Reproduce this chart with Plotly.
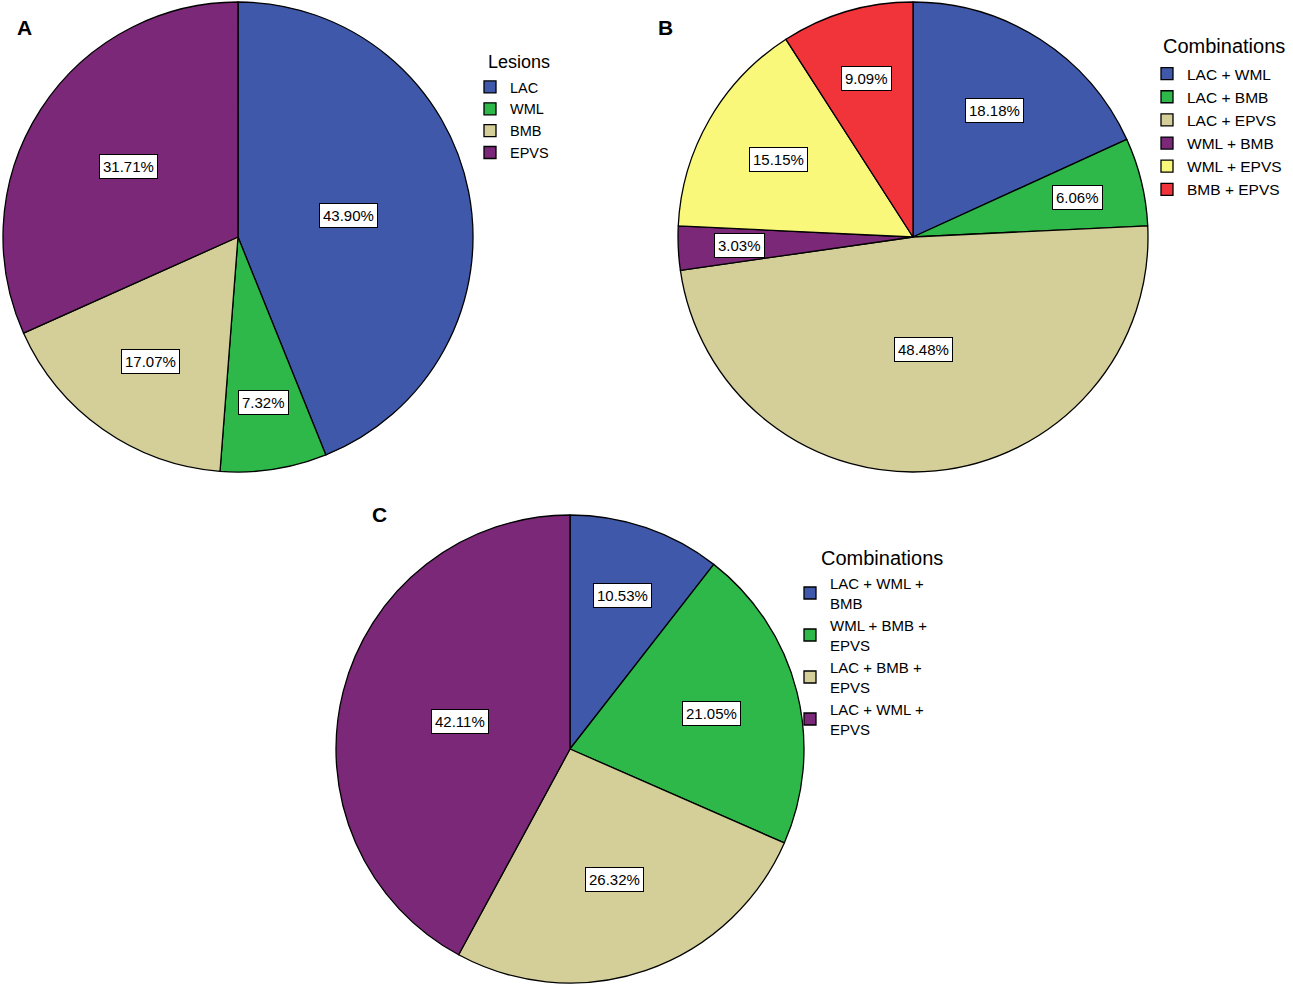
import math
import plotly.graph_objects as go

# panel A: single lesion types
lesions = ["LAC", "WML", "BMB", "EPVS"]
lesions_pct = [43.90, 7.32, 17.07, 31.71]

# panel B: two-lesion combinations
pairs = ["LAC + WML", "LAC + BMB", "LAC + EPVS", "WML + BMB", "WML + EPVS", "BMB + EPVS"]
pairs_pct = [18.18, 6.06, 48.48, 3.03, 15.15, 9.09]

# panel C: three-lesion combinations
triples = ["LAC + WML +<br>BMB", "WML + BMB +<br>EPVS", "LAC + BMB +<br>EPVS", "LAC + WML +<br>EPVS"]
triples_pct = [10.53, 21.05, 26.32, 42.11]

BLUE, GREEN, TAN, PURPLE = "#3F58AA", "#2EB84A", "#D4CE98", "#7B2878"
YELLOW, RED = "#FAF87A", "#F0343A"

W, H = 1293, 988
FONT = "Arial, Liberation Sans, sans-serif"

fig = go.Figure()
annotations = []


def px(x, y):
    # pixel position (from top-left) -> paper coords
    return x / W, 1 - y / H


def add_pie(labels, pct, colors, cx, cy, r, legend):
    fig.add_trace(go.Pie(
        labels=labels, values=pct, sort=False, direction="clockwise", rotation=0,
        marker=dict(colors=colors, line=dict(color="black", width=1.3)),
        textinfo="none", hoverinfo="label+percent", legend=legend,
        domain=dict(x=[(cx - r) / W, (cx + r) / W], y=[1 - (cy + r) / H, 1 - (cy - r) / H]),
    ))
    # boxed percentage labels, placed along each slice's mid-angle
    total = sum(pct)
    acc = 0
    for p in pct:
        share = p / total
        mid = (acc + share / 2) * 2 * math.pi
        acc += share
        f = max(0.48, 0.76 - 0.65 * share)
        x, y = px(cx + r * f * math.sin(mid), cy - r * f * math.cos(mid))
        annotations.append(dict(
            x=x, y=y, xref="paper", yref="paper", showarrow=False,
            xanchor="center", yanchor="middle",
            text="%.2f%%" % p, font=dict(size=15, color="black", family=FONT),
            bgcolor="white", bordercolor="black", borderwidth=1, borderpad=3,
        ))


add_pie(lesions, lesions_pct, [BLUE, GREEN, TAN, PURPLE], 238, 237, 235, "legend")
add_pie(pairs, pairs_pct, [BLUE, GREEN, TAN, PURPLE, YELLOW, RED], 913, 237, 235, "legend2")
add_pie(triples, triples_pct, [BLUE, GREEN, TAN, PURPLE], 570, 749, 234, "legend3")

# panel letters
for letter, lx, ly in [("A", 24, 27), ("B", 665, 27), ("C", 379, 514)]:
    x, y = px(lx, ly)
    annotations.append(dict(
        x=x, y=y, xref="paper", yref="paper", showarrow=False,
        xanchor="center", yanchor="middle",
        text="<b>%s</b>" % letter, font=dict(size=21, color="black", family=FONT),
    ))

# legend titles
for title, tx, ty, size in [("Lesions", 488, 62, 18), ("Combinations", 1163, 46, 20),
                            ("Combinations", 821, 558, 20)]:
    x, y = px(tx, ty)
    annotations.append(dict(
        x=x, y=y, xref="paper", yref="paper", showarrow=False,
        xanchor="left", yanchor="middle", xshift=-2,
        text=title, font=dict(size=size, color="black", family=FONT),
    ))


def legend_at(x, y, size):
    lx, ly = px(x, y)
    return dict(x=lx, y=ly, xanchor="left", yanchor="top", font=dict(size=size),
                bgcolor="rgba(0,0,0,0)", borderwidth=0)


fig.update_layout(
    width=W, height=H,
    margin=dict(l=0, r=0, t=0, b=0),
    paper_bgcolor="white", plot_bgcolor="white",
    font=dict(family=FONT, color="black"),
    annotations=annotations,
    legend=legend_at(470, 71, 14.5),
    legend2=legend_at(1147, 57, 15.5),
    legend3=legend_at(790, 567, 15),
)

fig.write_html("out.html", config={"displayModeBar": False},
               post_script="document.body.style.margin = '0px';")
